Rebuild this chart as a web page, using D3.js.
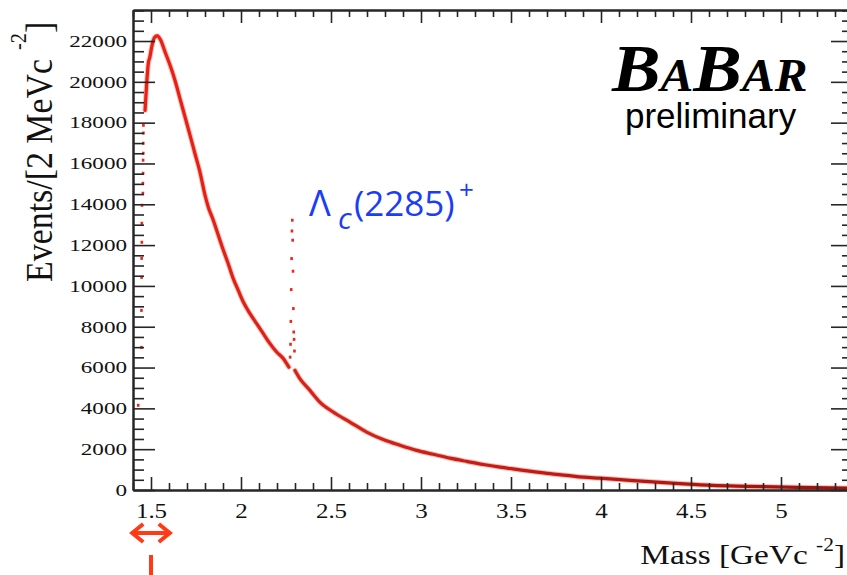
<!DOCTYPE html>
<html>
<head>
<meta charset="utf-8">
<script src="https://cdn.jsdelivr.net/npm/d3@7"></script>
<style>
  html, body { margin: 0; padding: 0; background: #fff; }
  svg { display: block; }
</style>
</head>
<body>
<svg id="chart" width="847" height="575"></svg>
<script>
// ---- axis ranges and tick labels ----
const massRange = [1.4, 5.4];          // GeV/c^2
const eventsRange = [0, 23520];        // events per 2 MeV/c^2
const xMajorTicks = [1.5, 2, 2.5, 3, 3.5, 4, 4.5, 5];
const yMajorTicks = [0, 2000, 4000, 6000, 8000, 10000, 12000, 14000, 16000, 18000, 20000, 22000];

// ---- threshold bins (steep rise, drawn as separate markers) ----
const thresholdMass   = [1.429, 1.447, 1.447, 1.448, 1.448, 1.449, 1.449, 1.450, 1.455, 1.455, 1.456, 1.456, 1.457, 1.457, 1.458, 1.458];
const thresholdEvents = [4150, 6990, 8800, 10420, 11350, 12140, 13070, 13950, 14540, 15030, 15520, 16160, 16500, 16990, 17490, 17870];

// ---- continuum below the Lambda_c peak ----
const lowMass   = [1.467, 1.476, 1.485, 1.494, 1.504, 1.513, 1.522, 1.535, 1.554, 1.578, 1.606, 1.633, 1.661, 1.689, 1.717, 1.744, 1.772, 1.800, 1.818, 1.846, 1.874, 1.902, 1.929, 1.957, 1.985, 2.013, 2.050, 2.087, 2.124, 2.161, 2.198, 2.235, 2.254, 2.266];
const lowEvents = [18600, 19920, 20900, 21220, 21710, 22040, 22200, 22250, 22040, 21470, 20810, 20080, 19180, 18280, 17380, 16490, 15580, 14450, 13870, 13220, 12480, 11750, 11090, 10360, 9780, 9210, 8640, 8150, 7660, 7170, 6760, 6440, 6190, 6020];

// ---- Lambda_c(2285)+ peak bins ----
const peakMass   = [2.273, 2.275, 2.277, 2.279, 2.281, 2.283, 2.285, 2.287, 2.289, 2.291, 2.293, 2.295, 2.297];
const peakEvents = [6510, 7140, 8260, 9820, 11340, 12690, 13220, 12240, 10720, 8890, 7740, 7380, 6810];

// ---- continuum above the peak ----
const highMass   = [2.300, 2.327, 2.383, 2.438, 2.512, 2.605, 2.698, 2.790, 2.883, 2.976, 3.068, 3.161, 3.254, 3.346, 3.439, 3.531, 3.624, 3.716, 3.809, 3.901, 3.994, 4.161, 4.438, 4.618, 4.808, 5.088, 5.358, 5.400];
const highEvents = [5860, 5460, 4880, 4310, 3820, 3330, 2840, 2470, 2190, 1940, 1750, 1560, 1400, 1250, 1120, 1010, 900, 800, 720, 630, 580, 470, 310, 225, 180, 127, 95, 90];

// mass window marker under the axis
const windowMass = [1.39, 1.61];
const windowCentre = 1.5;

const serif = "'Liberation Serif', 'Times New Roman', Times, serif";
const sans  = "'Liberation Sans', Arial, Helvetica, sans-serif";
const axisColor = "#262626";

const svg = d3.select("#chart");
svg.append("rect").attr("width", 847).attr("height", 575).attr("fill", "#fff");

const x = d3.scaleLinear().domain(massRange).range([133, 853]);
const y = d3.scaleLinear().domain(eventsRange).range([490, 10]);

const zip = (ms, vs) => ms.map((m, i) => ({ m, v: vs[i] }));

// colour of the spectrum darkens towards the high-mass tail
const defs = svg.append("defs");
const grad = defs.append("linearGradient")
  .attr("id", "bandGrad").attr("gradientUnits", "userSpaceOnUse")
  .attr("x1", x(1.5)).attr("x2", x(5.4)).attr("y1", 0).attr("y2", 0);
grad.append("stop").attr("offset", "0%").attr("stop-color", "#ea2015");
grad.append("stop").attr("offset", "30%").attr("stop-color", "#d0221a");
grad.append("stop").attr("offset", "100%").attr("stop-color", "#a0100b");

const line = d3.line().x(d => x(d.m)).y(d => y(d.v)).curve(d3.curveMonotoneX);
const plot = svg.append("g");
const segments = [zip(lowMass, lowEvents), zip(highMass, highEvents)];

// soft halo of the error bars, then the dense points themselves
segments.forEach(seg => {
  plot.append("path")
    .datum(seg)
    .attr("d", line)
    .attr("fill", "none")
    .attr("stroke", "#ee6a5c")
    .attr("stroke-opacity", 0.45)
    .attr("stroke-width", 5.2)
    .attr("stroke-linejoin", "round")
    .attr("stroke-linecap", "round");
});
segments.forEach(seg => {
  plot.append("path")
    .datum(seg)
    .attr("d", line)
    .attr("fill", "none")
    .attr("stroke", "url(#bandGrad)")
    .attr("stroke-width", 3.2)
    .attr("stroke-linejoin", "round")
    .attr("stroke-linecap", "round");
});

const markers = zip(thresholdMass, thresholdEvents).concat(zip(peakMass, peakEvents));
plot.selectAll("rect.bin")
  .data(markers)
  .join("rect")
  .attr("class", "bin")
  .attr("x", d => x(d.m) - 1.3)
  .attr("y", d => y(d.v) - 1.5)
  .attr("width", 2.6)
  .attr("height", 3)
  .attr("fill", "#e8281c");

// ---- frame and axes ----
const xMinor = d3.range(14, 55).map(i => i / 10).filter(v => Math.round(v * 10) % 5 !== 0);
const yMinor = d3.range(0, 23520, 500).filter(v => v % 2000 !== 0);

function styleAxis(g) {
  g.select("path.domain").attr("stroke", axisColor).attr("stroke-width", 2);
  g.selectAll(".tick line").attr("stroke", axisColor).attr("stroke-width", 1.6);
}

// bottom
svg.append("g").attr("transform", "translate(0,490)")
  .call(d3.axisBottom(x).tickValues(xMinor).tickSize(-7).tickSizeOuter(0).tickFormat(""))
  .call(styleAxis);
const xAxisG = svg.append("g").attr("transform", "translate(0,490)")
  .call(d3.axisBottom(x).tickValues(xMajorTicks).tickSize(-13).tickSizeOuter(0).tickPadding(14).tickFormat(d => String(d)))
  .call(styleAxis);
xAxisG.selectAll(".tick text")
  .attr("font-family", serif).attr("font-size", 20).attr("fill", "#111")
  .attr("transform", "scale(1.25,1)");

// top
svg.append("g").attr("transform", "translate(0,10)")
  .call(d3.axisTop(x).tickValues(xMinor).tickSize(-7).tickSizeOuter(0).tickFormat(""))
  .call(styleAxis);
svg.append("g").attr("transform", "translate(0,10)")
  .call(d3.axisTop(x).tickValues(xMajorTicks).tickSize(-13).tickSizeOuter(0).tickFormat(""))
  .call(styleAxis);

// left
svg.append("g").attr("transform", "translate(133,0)")
  .call(d3.axisLeft(y).tickValues(yMinor).tickSize(-11).tickSizeOuter(0).tickFormat(""))
  .call(styleAxis);
const yAxisG = svg.append("g").attr("transform", "translate(133,0)")
  .call(d3.axisLeft(y).tickValues(yMajorTicks).tickSize(-22).tickSizeOuter(0).tickPadding(4.3).tickFormat(d => String(d)))
  .call(styleAxis);
yAxisG.selectAll(".tick text")
  .attr("font-family", serif).attr("font-size", 16.5).attr("fill", "#111")
  .attr("transform", "scale(1.4,1)");

// right
svg.append("g").attr("transform", "translate(853,0)")
  .call(d3.axisRight(y).tickValues(yMinor).tickSize(-11).tickSizeOuter(0).tickFormat(""))
  .call(styleAxis);
svg.append("g").attr("transform", "translate(853,0)")
  .call(d3.axisRight(y).tickValues(yMajorTicks).tickSize(-22).tickSizeOuter(0).tickFormat(""))
  .call(styleAxis);

// ---- axis titles ----
const xTitle = svg.append("text")
  .attr("transform", "translate(845,564) scale(1.19,1)")
  .attr("text-anchor", "end")
  .attr("font-family", serif).attr("font-size", 28).attr("fill", "#111");
xTitle.append("tspan").text("Mass [GeVc");
xTitle.append("tspan").attr("dx", 7).attr("dy", -13).attr("font-size", 18).text("-2");
xTitle.append("tspan").attr("dy", 13).text("]");

const yTitle = svg.append("text")
  .attr("transform", "translate(52,282) rotate(-90) scale(1.13,1.24)")
  .attr("font-family", serif).attr("font-size", 30).attr("fill", "#111");
yTitle.append("tspan").text("Events/[2 MeVc");
yTitle.append("tspan").attr("dx", 8).attr("dy", -21).attr("font-size", 18).text("-2");
yTitle.append("tspan").attr("dy", 21).text("]");

// ---- Lambda_c label ----
const lc = svg.append("text")
  .attr("font-family", "'Open Sans', Lato, sans-serif")
  .attr("fill", "#1b3df5");
lc.append("tspan").attr("x", 309).attr("y", 216).attr("font-size", 36).text("Λ");
lc.append("tspan").attr("x", 338).attr("y", 229).attr("font-size", 30).attr("font-style", "italic").text("c");
lc.append("tspan").attr("x", 354).attr("y", 216).attr("font-size", 35).text("(2285)");
lc.append("tspan").attr("x", 459).attr("y", 199).attr("font-size", 26).text("+");

// ---- experiment logo: large initials with small capitals ----
const logo = svg.append("text")
  .attr("transform", "translate(612,91) scale(1.07,1)")
  .attr("font-family", serif).attr("font-weight", "bold").attr("font-style", "italic")
  .attr("fill", "#000");
[["B", 68], ["A", 46], ["B", 68], ["A", 46], ["R", 46]].forEach(([ch, size]) => {
  logo.append("tspan").attr("font-size", size).text(ch);
});

svg.append("text")
  .attr("x", 625).attr("y", 128)
  .attr("font-family", sans).attr("font-size", 35).attr("fill", "#000")
  .text("preliminary");

// ---- mass window marker ----
const red = "#ff3a17";
const ay = 533;
const ax0 = x(windowMass[0]), ax1 = x(windowMass[1]);
const marker = svg.append("g").attr("fill", "none").attr("stroke", red).attr("stroke-width", 4);
marker.append("line").attr("x1", ax0 + 1).attr("x2", ax1 - 1).attr("y1", ay).attr("y2", ay);
marker.append("path").attr("d", `M${ax0 + 12},${ay - 9}L${ax0 + 1},${ay}L${ax0 + 12},${ay + 9}`);
marker.append("path").attr("d", `M${ax1 - 12},${ay - 9}L${ax1 - 1},${ay}L${ax1 - 12},${ay + 9}`);
svg.append("rect")
  .attr("x", x(windowCentre) - 2).attr("y", 555)
  .attr("width", 4).attr("height", 20)
  .attr("fill", red);
</script>
</body>
</html>
